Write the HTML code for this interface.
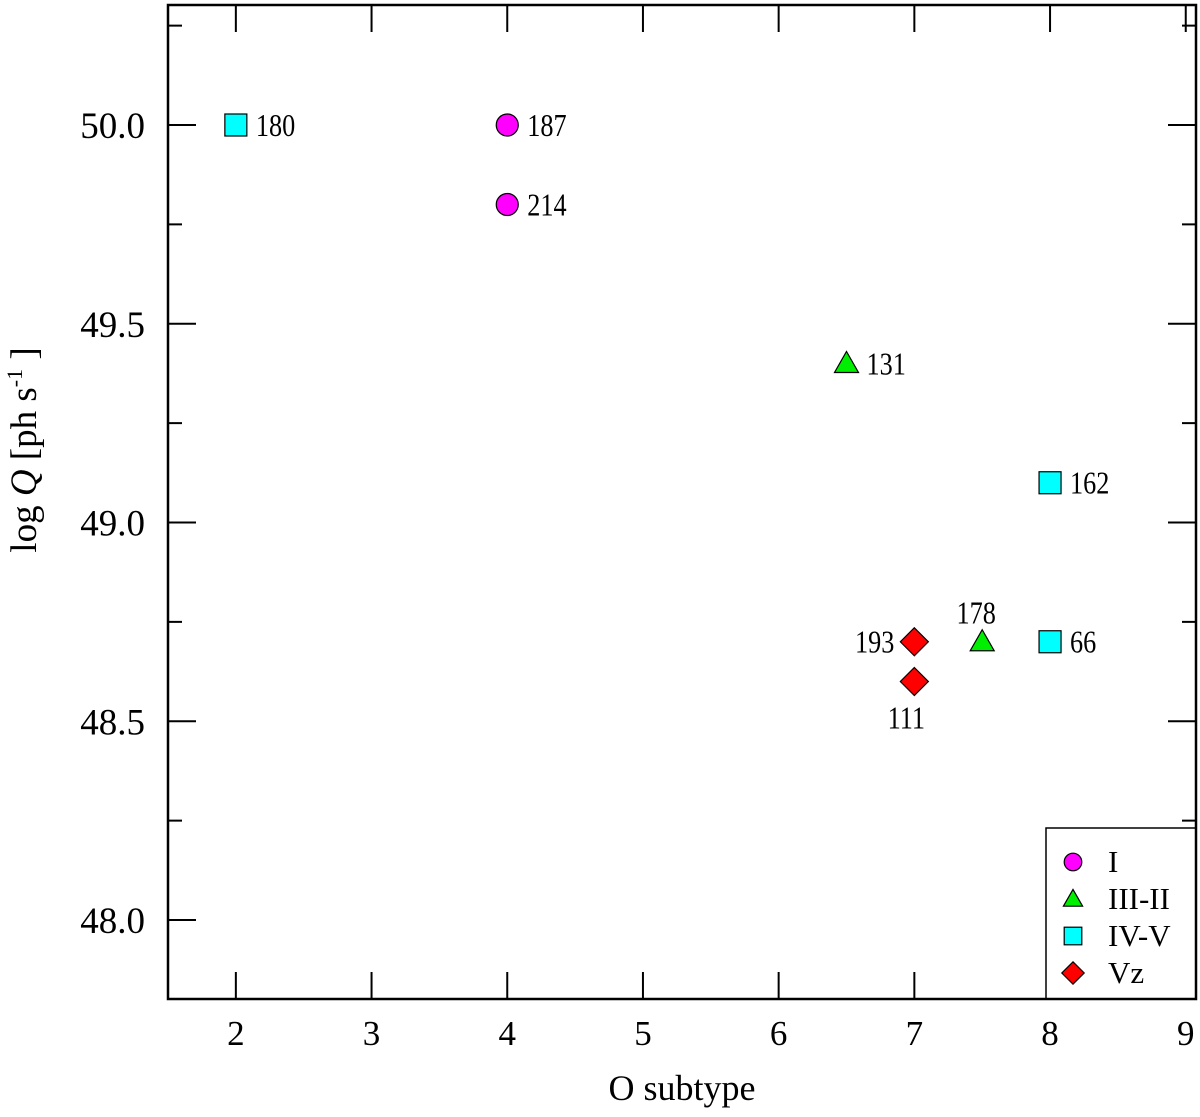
<!DOCTYPE html>
<html><head><meta charset="utf-8"><style>
body{margin:0;background:#fff}
svg text{font-family:"Liberation Serif",serif;fill:#000}
</style></head><body>
<svg id="chart" width="1200" height="1112" xmlns="http://www.w3.org/2000/svg"></svg>
<script>
const xVals=[2,4,4,6.5,8,7.5,8,7,7];
const yVals=[50.0,50.0,49.8,49.4,49.1,48.7,48.7,48.7,48.6];
const labels=["180","187","214","131","162","178","66","193","111"];
const classes=["IV-V","I","I","III-II","IV-V","III-II","IV-V","Vz","Vz"];
const labelPos=["r","r","r","r","r","t","r","l","b"];
const xTicks=[2,3,4,5,6,7,8,9];
const yTicks=["48.0","48.5","49.0","49.5","50.0"];
const legendEntries=["I","III-II","IV-V","Vz"];

const L=168,R=1196,T=5,B=999;
const x=v=>L+(v-1.5)*135.7;
const y=v=>920-(v-48.0)*397.5;
const svg=document.getElementById('chart');
const NS="http://www.w3.org/2000/svg";
function mk(tag,attrs,parent){const e=document.createElementNS(NS,tag);for(const k in attrs)e.setAttribute(k,attrs[k]);(parent||svg).appendChild(e);return e;}
const colors={"I":"#ff00ff","III-II":"#00ee00","IV-V":"#00ffff","Vz":"#ff0000"};
function marker(cls,cx,cy,s,parent){
  let e;
  if(cls==="I")e=mk('circle',{cx:cx,cy:cy,r:11*s},parent);
  else if(cls==="III-II")e=mk('polygon',{points:`${cx},${cy-12*s} ${cx+12*s},${cy+9*s} ${cx-12*s},${cy+9*s}`},parent);
  else if(cls==="IV-V")e=mk('rect',{x:cx-11*s,y:cy-11*s,width:22*s,height:22*s},parent);
  else e=mk('polygon',{points:`${cx},${cy-14*s} ${cx+14*s},${cy} ${cx},${cy+14*s} ${cx-14*s},${cy}`},parent);
  e.setAttribute('fill',colors[cls]);e.setAttribute('stroke','#000');e.setAttribute('stroke-width','1.2');
  return e;
}
const ax=mk('g',{});


xTicks.forEach(t=>{
  const px=x(t);
  mk('line',{x1:px,y1:B,x2:px,y2:B-27,stroke:'#000','stroke-width':2},ax);
  mk('line',{x1:px,y1:T,x2:px,y2:T+27,stroke:'#000','stroke-width':2},ax);
  const tx=mk('text',{x:px,y:1045,'font-size':35,'text-anchor':'middle'},ax);tx.textContent=t;
  
  
});
for(let v=47.75;v<=50.3;v+=0.25){
  const py=y(v); if(py<T||py>B)continue;
  const major=Math.abs(v*2-Math.round(v*2))<1e-6;
  const len=major?28:14;
  mk('line',{x1:L,y1:py,x2:L+len,y2:py,stroke:'#000','stroke-width':2},ax);
  mk('line',{x1:R,y1:py,x2:R-len,y2:py,stroke:'#000','stroke-width':2},ax);
}
yTicks.forEach(t=>{
  const tx=mk('text',{x:145,y:y(parseFloat(t))+13,'font-size':37,'text-anchor':'end'},ax);tx.textContent=t;
  
  
});
const pts=mk('g',{});


xVals.forEach((xv,i)=>{
  const cx=x(xv),cy=y(yVals[i]);
  const m=marker(classes[i],cx,cy,1,pts);
  
  
  let lx=cx+20,ly=cy+11,anc='start';
  if(labelPos[i]==='t'){lx=cx-6;ly=cy-18;anc='middle';}
  if(labelPos[i]==='l'){lx=cx-20;anc='end';}
  if(labelPos[i]==='b'){lx=cx-8;ly=cy+47;anc='middle';}
  const tx=mk('text',{x:lx,y:ly,'font-size':32,'text-anchor':anc,transform:`scale(0.82,1)`,'transform-origin':`${lx} ${ly}`},pts);
  tx.textContent=labels[i];
  
  
});
const lg=mk('g',{});


mk('rect',{x:1046,y:828,width:150,height:171,fill:'#fff',stroke:'#000','stroke-width':1.5},lg);
legendEntries.forEach((c,i)=>{
  const cy=862+i*37;
  marker(c,1073,cy,0.8,lg);
  const tx=mk('text',{x:1108,y:cy+10,'font-size':31},lg);tx.textContent=c;
  
  
});
mk('rect',{x:L,y:T,width:R-L,height:B-T,fill:'none',stroke:'#000','stroke-width':2.5});
const xt=mk('text',{x:682,y:1100,'font-size':36,'text-anchor':'middle'});xt.textContent='O subtype';


const yt=mk('text',{x:0,y:0,'font-size':37,'text-anchor':'middle',transform:'translate(36,450) rotate(-90)'});
yt.innerHTML='log <tspan font-style="italic">Q</tspan> [ph s<tspan dy="-14" font-size="22">-1</tspan><tspan dy="14"> ]</tspan>';


</script>
</body></html>
